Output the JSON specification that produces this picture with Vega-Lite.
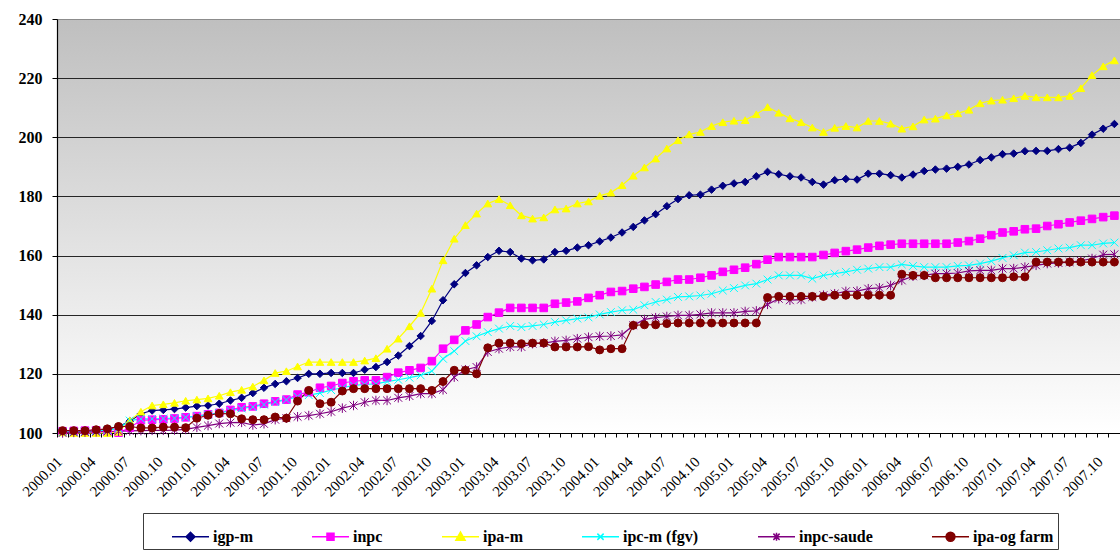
{
  "$schema": "https://vega.github.io/schema/vega-lite/v6.json",
  "width": 1063,
  "height": 414,
  "autosize": {"type": "none"},
  "padding": {"left": 57, "top": 19, "right": 0, "bottom": 124},
  "background": "#FFFFFF",
  "view": {
    "stroke": null,
    "fill": {"gradient": "linear", "x1": 0, "y1": 0, "x2": 0, "y2": 1,
      "stops": [{"offset": 0, "color": "#BFBFBF"}, {"offset": 1, "color": "#FFFFFF"}]}
  },
  "config": {"font": "Liberation Serif, Times New Roman, Times, serif"},
  "data": {"values": [
    {"month":"2000.01","series":"igp-m","value":100.3},{"month":"2000.02","series":"igp-m","value":100.4},{"month":"2000.03","series":"igp-m","value":100.6},{"month":"2000.04","series":"igp-m","value":100.8},{"month":"2000.05","series":"igp-m","value":101.3},{"month":"2000.06","series":"igp-m","value":102.2},{"month":"2000.07","series":"igp-m","value":104.0},{"month":"2000.08","series":"igp-m","value":106.5},{"month":"2000.09","series":"igp-m","value":107.6},{"month":"2000.10","series":"igp-m","value":107.8},{"month":"2000.11","series":"igp-m","value":108.1},{"month":"2000.12","series":"igp-m","value":108.6},
    {"month":"2001.01","series":"igp-m","value":109.1},{"month":"2001.02","series":"igp-m","value":109.3},{"month":"2001.03","series":"igp-m","value":109.9},{"month":"2001.04","series":"igp-m","value":111.0},{"month":"2001.05","series":"igp-m","value":111.9},{"month":"2001.06","series":"igp-m","value":113.5},{"month":"2001.07","series":"igp-m","value":115.3},{"month":"2001.08","series":"igp-m","value":116.6},{"month":"2001.09","series":"igp-m","value":117.5},{"month":"2001.10","series":"igp-m","value":118.6},{"month":"2001.11","series":"igp-m","value":120.0},{"month":"2001.12","series":"igp-m","value":120.0},
    {"month":"2002.01","series":"igp-m","value":120.3},{"month":"2002.02","series":"igp-m","value":120.3},{"month":"2002.03","series":"igp-m","value":120.3},{"month":"2002.04","series":"igp-m","value":121.4},{"month":"2002.05","series":"igp-m","value":122.3},{"month":"2002.06","series":"igp-m","value":124.0},{"month":"2002.07","series":"igp-m","value":126.2},{"month":"2002.08","series":"igp-m","value":129.4},{"month":"2002.09","series":"igp-m","value":132.8},{"month":"2002.10","series":"igp-m","value":137.9},{"month":"2002.11","series":"igp-m","value":144.9},{"month":"2002.12","series":"igp-m","value":150.3},
    {"month":"2003.01","series":"igp-m","value":154.1},{"month":"2003.02","series":"igp-m","value":156.7},{"month":"2003.03","series":"igp-m","value":159.5},{"month":"2003.04","series":"igp-m","value":161.6},{"month":"2003.05","series":"igp-m","value":161.2},{"month":"2003.06","series":"igp-m","value":159.0},{"month":"2003.07","series":"igp-m","value":158.4},{"month":"2003.08","series":"igp-m","value":158.7},{"month":"2003.09","series":"igp-m","value":161.2},{"month":"2003.10","series":"igp-m","value":161.6},{"month":"2003.11","series":"igp-m","value":162.7},{"month":"2003.12","series":"igp-m","value":163.5},
    {"month":"2004.01","series":"igp-m","value":164.8},{"month":"2004.02","series":"igp-m","value":166.1},{"month":"2004.03","series":"igp-m","value":167.8},{"month":"2004.04","series":"igp-m","value":169.7},{"month":"2004.05","series":"igp-m","value":171.9},{"month":"2004.06","series":"igp-m","value":174.0},{"month":"2004.07","series":"igp-m","value":176.7},{"month":"2004.08","series":"igp-m","value":179.1},{"month":"2004.09","series":"igp-m","value":180.4},{"month":"2004.10","series":"igp-m","value":180.6},{"month":"2004.11","series":"igp-m","value":182.3},{"month":"2004.12","series":"igp-m","value":183.6},
    {"month":"2005.01","series":"igp-m","value":184.4},{"month":"2005.02","series":"igp-m","value":184.9},{"month":"2005.03","series":"igp-m","value":186.8},{"month":"2005.04","series":"igp-m","value":188.3},{"month":"2005.05","series":"igp-m","value":187.5},{"month":"2005.06","series":"igp-m","value":186.8},{"month":"2005.07","series":"igp-m","value":186.4},{"month":"2005.08","series":"igp-m","value":184.9},{"month":"2005.09","series":"igp-m","value":184.0},{"month":"2005.10","series":"igp-m","value":185.5},{"month":"2005.11","series":"igp-m","value":185.9},{"month":"2005.12","series":"igp-m","value":185.7},
    {"month":"2006.01","series":"igp-m","value":187.7},{"month":"2006.02","series":"igp-m","value":187.7},{"month":"2006.03","series":"igp-m","value":187.2},{"month":"2006.04","series":"igp-m","value":186.4},{"month":"2006.05","series":"igp-m","value":187.4},{"month":"2006.06","series":"igp-m","value":188.6},{"month":"2006.07","series":"igp-m","value":189.1},{"month":"2006.08","series":"igp-m","value":189.4},{"month":"2006.09","series":"igp-m","value":190.0},{"month":"2006.10","series":"igp-m","value":190.8},{"month":"2006.11","series":"igp-m","value":192.3},{"month":"2006.12","series":"igp-m","value":193.2},
    {"month":"2007.01","series":"igp-m","value":194.3},{"month":"2007.02","series":"igp-m","value":194.5},{"month":"2007.03","series":"igp-m","value":195.3},{"month":"2007.04","series":"igp-m","value":195.4},{"month":"2007.05","series":"igp-m","value":195.4},{"month":"2007.06","series":"igp-m","value":196.0},{"month":"2007.07","series":"igp-m","value":196.5},{"month":"2007.08","series":"igp-m","value":198.1},{"month":"2007.09","series":"igp-m","value":200.9},{"month":"2007.10","series":"igp-m","value":202.9},{"month":"2007.11","series":"igp-m","value":204.5},

    {"month":"2000.01","series":"inpc","value":100.6},{"month":"2000.02","series":"inpc","value":100.7},{"month":"2000.03","series":"inpc","value":100.8},{"month":"2000.04","series":"inpc","value":100.9},{"month":"2000.05","series":"inpc","value":100.6},{"month":"2000.06","series":"inpc","value":100.1},{"month":"2000.07","series":"inpc","value":101.8},{"month":"2000.08","series":"inpc","value":104.3},{"month":"2000.09","series":"inpc","value":104.5},{"month":"2000.10","series":"inpc","value":104.6},{"month":"2000.11","series":"inpc","value":104.9},{"month":"2000.12","series":"inpc","value":105.3},
    {"month":"2001.01","series":"inpc","value":105.7},{"month":"2001.02","series":"inpc","value":106.3},{"month":"2001.03","series":"inpc","value":106.8},{"month":"2001.04","series":"inpc","value":107.8},{"month":"2001.05","series":"inpc","value":108.7},{"month":"2001.06","series":"inpc","value":109.0},{"month":"2001.07","series":"inpc","value":109.9},{"month":"2001.08","series":"inpc","value":110.7},{"month":"2001.09","series":"inpc","value":111.3},{"month":"2001.10","series":"inpc","value":113.0},{"month":"2001.11","series":"inpc","value":113.8},{"month":"2001.12","series":"inpc","value":115.3},
    {"month":"2002.01","series":"inpc","value":115.9},{"month":"2002.02","series":"inpc","value":116.9},{"month":"2002.03","series":"inpc","value":117.5},{"month":"2002.04","series":"inpc","value":117.8},{"month":"2002.05","series":"inpc","value":117.8},{"month":"2002.06","series":"inpc","value":118.9},{"month":"2002.07","series":"inpc","value":120.4},{"month":"2002.08","series":"inpc","value":121.2},{"month":"2002.09","series":"inpc","value":122.0},{"month":"2002.10","series":"inpc","value":124.3},{"month":"2002.11","series":"inpc","value":128.5},{"month":"2002.12","series":"inpc","value":131.5},
    {"month":"2003.01","series":"inpc","value":134.7},{"month":"2003.02","series":"inpc","value":136.7},{"month":"2003.03","series":"inpc","value":139.2},{"month":"2003.04","series":"inpc","value":140.7},{"month":"2003.05","series":"inpc","value":142.3},{"month":"2003.06","series":"inpc","value":142.3},{"month":"2003.07","series":"inpc","value":142.3},{"month":"2003.08","series":"inpc","value":142.3},{"month":"2003.09","series":"inpc","value":143.7},{"month":"2003.10","series":"inpc","value":144.1},{"month":"2003.11","series":"inpc","value":144.5},{"month":"2003.12","series":"inpc","value":145.7},
    {"month":"2004.01","series":"inpc","value":146.6},{"month":"2004.02","series":"inpc","value":147.7},{"month":"2004.03","series":"inpc","value":148.0},{"month":"2004.04","series":"inpc","value":148.8},{"month":"2004.05","series":"inpc","value":149.4},{"month":"2004.06","series":"inpc","value":150.2},{"month":"2004.07","series":"inpc","value":151.1},{"month":"2004.08","series":"inpc","value":151.9},{"month":"2004.09","series":"inpc","value":151.9},{"month":"2004.10","series":"inpc","value":152.5},{"month":"2004.11","series":"inpc","value":153.3},{"month":"2004.12","series":"inpc","value":154.5},
    {"month":"2005.01","series":"inpc","value":155.2},{"month":"2005.02","series":"inpc","value":155.9},{"month":"2005.03","series":"inpc","value":157.1},{"month":"2005.04","series":"inpc","value":158.6},{"month":"2005.05","series":"inpc","value":159.5},{"month":"2005.06","series":"inpc","value":159.5},{"month":"2005.07","series":"inpc","value":159.5},{"month":"2005.08","series":"inpc","value":159.5},{"month":"2005.09","series":"inpc","value":160.2},{"month":"2005.10","series":"inpc","value":160.9},{"month":"2005.11","series":"inpc","value":161.5},{"month":"2005.12","series":"inpc","value":162.0},
    {"month":"2006.01","series":"inpc","value":162.7},{"month":"2006.02","series":"inpc","value":163.3},{"month":"2006.03","series":"inpc","value":163.7},{"month":"2006.04","series":"inpc","value":164.0},{"month":"2006.05","series":"inpc","value":164.0},{"month":"2006.06","series":"inpc","value":164.0},{"month":"2006.07","series":"inpc","value":164.0},{"month":"2006.08","series":"inpc","value":164.0},{"month":"2006.09","series":"inpc","value":164.4},{"month":"2006.10","series":"inpc","value":164.9},{"month":"2006.11","series":"inpc","value":165.7},{"month":"2006.12","series":"inpc","value":166.9},
    {"month":"2007.01","series":"inpc","value":167.8},{"month":"2007.02","series":"inpc","value":168.2},{"month":"2007.03","series":"inpc","value":168.9},{"month":"2007.04","series":"inpc","value":169.1},{"month":"2007.05","series":"inpc","value":170.0},{"month":"2007.06","series":"inpc","value":170.6},{"month":"2007.07","series":"inpc","value":171.2},{"month":"2007.08","series":"inpc","value":171.8},{"month":"2007.09","series":"inpc","value":172.4},{"month":"2007.10","series":"inpc","value":173.0},{"month":"2007.11","series":"inpc","value":173.5},

    {"month":"2000.01","series":"ipa-m","value":100.2},{"month":"2000.02","series":"ipa-m","value":100.0},{"month":"2000.03","series":"ipa-m","value":100.0},{"month":"2000.04","series":"ipa-m","value":100.0},{"month":"2000.05","series":"ipa-m","value":100.0},{"month":"2000.06","series":"ipa-m","value":100.4},{"month":"2000.07","series":"ipa-m","value":104.2},{"month":"2000.08","series":"ipa-m","value":107.2},{"month":"2000.09","series":"ipa-m","value":109.3},{"month":"2000.10","series":"ipa-m","value":109.7},{"month":"2000.11","series":"ipa-m","value":110.2},{"month":"2000.12","series":"ipa-m","value":110.9},
    {"month":"2001.01","series":"ipa-m","value":111.3},{"month":"2001.02","series":"ipa-m","value":111.7},{"month":"2001.03","series":"ipa-m","value":112.6},{"month":"2001.04","series":"ipa-m","value":113.8},{"month":"2001.05","series":"ipa-m","value":114.6},{"month":"2001.06","series":"ipa-m","value":115.7},{"month":"2001.07","series":"ipa-m","value":117.8},{"month":"2001.08","series":"ipa-m","value":120.3},{"month":"2001.09","series":"ipa-m","value":120.9},{"month":"2001.10","series":"ipa-m","value":122.5},{"month":"2001.11","series":"ipa-m","value":124.0},{"month":"2001.12","series":"ipa-m","value":124.0},
    {"month":"2002.01","series":"ipa-m","value":124.0},{"month":"2002.02","series":"ipa-m","value":124.0},{"month":"2002.03","series":"ipa-m","value":124.0},{"month":"2002.04","series":"ipa-m","value":124.5},{"month":"2002.05","series":"ipa-m","value":125.3},{"month":"2002.06","series":"ipa-m","value":128.5},{"month":"2002.07","series":"ipa-m","value":131.9},{"month":"2002.08","series":"ipa-m","value":136.1},{"month":"2002.09","series":"ipa-m","value":140.6},{"month":"2002.10","series":"ipa-m","value":148.8},{"month":"2002.11","series":"ipa-m","value":158.4},{"month":"2002.12","series":"ipa-m","value":165.7},
    {"month":"2003.01","series":"ipa-m","value":170.3},{"month":"2003.02","series":"ipa-m","value":174.2},{"month":"2003.03","series":"ipa-m","value":177.6},{"month":"2003.04","series":"ipa-m","value":179.1},{"month":"2003.05","series":"ipa-m","value":177.0},{"month":"2003.06","series":"ipa-m","value":173.6},{"month":"2003.07","series":"ipa-m","value":172.5},{"month":"2003.08","series":"ipa-m","value":172.9},{"month":"2003.09","series":"ipa-m","value":175.6},{"month":"2003.10","series":"ipa-m","value":175.9},{"month":"2003.11","series":"ipa-m","value":177.6},{"month":"2003.12","series":"ipa-m","value":178.3},
    {"month":"2004.01","series":"ipa-m","value":180.2},{"month":"2004.02","series":"ipa-m","value":181.3},{"month":"2004.03","series":"ipa-m","value":183.8},{"month":"2004.04","series":"ipa-m","value":187.0},{"month":"2004.05","series":"ipa-m","value":189.8},{"month":"2004.06","series":"ipa-m","value":192.8},{"month":"2004.07","series":"ipa-m","value":196.2},{"month":"2004.08","series":"ipa-m","value":199.0},{"month":"2004.09","series":"ipa-m","value":201.0},{"month":"2004.10","series":"ipa-m","value":201.8},{"month":"2004.11","series":"ipa-m","value":203.8},{"month":"2004.12","series":"ipa-m","value":205.1},
    {"month":"2005.01","series":"ipa-m","value":205.6},{"month":"2005.02","series":"ipa-m","value":205.8},{"month":"2005.03","series":"ipa-m","value":207.8},{"month":"2005.04","series":"ipa-m","value":210.2},{"month":"2005.05","series":"ipa-m","value":208.3},{"month":"2005.06","series":"ipa-m","value":206.4},{"month":"2005.07","series":"ipa-m","value":205.1},{"month":"2005.08","series":"ipa-m","value":203.3},{"month":"2005.09","series":"ipa-m","value":201.8},{"month":"2005.10","series":"ipa-m","value":203.2},{"month":"2005.11","series":"ipa-m","value":203.8},{"month":"2005.12","series":"ipa-m","value":203.3},
    {"month":"2006.01","series":"ipa-m","value":205.5},{"month":"2006.02","series":"ipa-m","value":205.5},{"month":"2006.03","series":"ipa-m","value":204.6},{"month":"2006.04","series":"ipa-m","value":202.9},{"month":"2006.05","series":"ipa-m","value":203.7},{"month":"2006.06","series":"ipa-m","value":206.0},{"month":"2006.07","series":"ipa-m","value":206.3},{"month":"2006.08","series":"ipa-m","value":207.4},{"month":"2006.09","series":"ipa-m","value":208.1},{"month":"2006.10","series":"ipa-m","value":209.3},{"month":"2006.11","series":"ipa-m","value":211.5},{"month":"2006.12","series":"ipa-m","value":212.4},
    {"month":"2007.01","series":"ipa-m","value":212.7},{"month":"2007.02","series":"ipa-m","value":213.2},{"month":"2007.03","series":"ipa-m","value":214.0},{"month":"2007.04","series":"ipa-m","value":213.5},{"month":"2007.05","series":"ipa-m","value":213.5},{"month":"2007.06","series":"ipa-m","value":213.5},{"month":"2007.07","series":"ipa-m","value":214.0},{"month":"2007.08","series":"ipa-m","value":216.6},{"month":"2007.09","series":"ipa-m","value":221.0},{"month":"2007.10","series":"ipa-m","value":224.0},{"month":"2007.11","series":"ipa-m","value":226.0},

    {"month":"2000.01","series":"ipc-m (fgv)","value":100.3},{"month":"2000.02","series":"ipc-m (fgv)","value":100.4},{"month":"2000.03","series":"ipc-m (fgv)","value":100.5},{"month":"2000.04","series":"ipc-m (fgv)","value":100.7},{"month":"2000.05","series":"ipc-m (fgv)","value":101.0},{"month":"2000.06","series":"ipc-m (fgv)","value":101.5},{"month":"2000.07","series":"ipc-m (fgv)","value":104.2},{"month":"2000.08","series":"ipc-m (fgv)","value":104.8},{"month":"2000.09","series":"ipc-m (fgv)","value":104.8},{"month":"2000.10","series":"ipc-m (fgv)","value":104.9},{"month":"2000.11","series":"ipc-m (fgv)","value":105.0},{"month":"2000.12","series":"ipc-m (fgv)","value":105.3},
    {"month":"2001.01","series":"ipc-m (fgv)","value":105.7},{"month":"2001.02","series":"ipc-m (fgv)","value":106.2},{"month":"2001.03","series":"ipc-m (fgv)","value":106.8},{"month":"2001.04","series":"ipc-m (fgv)","value":107.5},{"month":"2001.05","series":"ipc-m (fgv)","value":108.3},{"month":"2001.06","series":"ipc-m (fgv)","value":108.8},{"month":"2001.07","series":"ipc-m (fgv)","value":109.6},{"month":"2001.08","series":"ipc-m (fgv)","value":110.5},{"month":"2001.09","series":"ipc-m (fgv)","value":111.2},{"month":"2001.10","series":"ipc-m (fgv)","value":112.3},{"month":"2001.11","series":"ipc-m (fgv)","value":112.8},{"month":"2001.12","series":"ipc-m (fgv)","value":113.5},
    {"month":"2002.01","series":"ipc-m (fgv)","value":114.5},{"month":"2002.02","series":"ipc-m (fgv)","value":115.3},{"month":"2002.03","series":"ipc-m (fgv)","value":116.1},{"month":"2002.04","series":"ipc-m (fgv)","value":116.4},{"month":"2002.05","series":"ipc-m (fgv)","value":116.6},{"month":"2002.06","series":"ipc-m (fgv)","value":117.4},{"month":"2002.07","series":"ipc-m (fgv)","value":118.0},{"month":"2002.08","series":"ipc-m (fgv)","value":118.7},{"month":"2002.09","series":"ipc-m (fgv)","value":119.5},{"month":"2002.10","series":"ipc-m (fgv)","value":120.9},{"month":"2002.11","series":"ipc-m (fgv)","value":125.1},{"month":"2002.12","series":"ipc-m (fgv)","value":127.7},
    {"month":"2003.01","series":"ipc-m (fgv)","value":131.1},{"month":"2003.02","series":"ipc-m (fgv)","value":132.7},{"month":"2003.03","series":"ipc-m (fgv)","value":134.1},{"month":"2003.04","series":"ipc-m (fgv)","value":135.3},{"month":"2003.05","series":"ipc-m (fgv)","value":136.2},{"month":"2003.06","series":"ipc-m (fgv)","value":135.8},{"month":"2003.07","series":"ipc-m (fgv)","value":136.2},{"month":"2003.08","series":"ipc-m (fgv)","value":136.7},{"month":"2003.09","series":"ipc-m (fgv)","value":137.5},{"month":"2003.10","series":"ipc-m (fgv)","value":138.1},{"month":"2003.11","series":"ipc-m (fgv)","value":138.7},{"month":"2003.12","series":"ipc-m (fgv)","value":139.1},
    {"month":"2004.01","series":"ipc-m (fgv)","value":140.1},{"month":"2004.02","series":"ipc-m (fgv)","value":140.9},{"month":"2004.03","series":"ipc-m (fgv)","value":141.5},{"month":"2004.04","series":"ipc-m (fgv)","value":141.7},{"month":"2004.05","series":"ipc-m (fgv)","value":143.2},{"month":"2004.06","series":"ipc-m (fgv)","value":144.3},{"month":"2004.07","series":"ipc-m (fgv)","value":145.1},{"month":"2004.08","series":"ipc-m (fgv)","value":146.0},{"month":"2004.09","series":"ipc-m (fgv)","value":146.2},{"month":"2004.10","series":"ipc-m (fgv)","value":146.5},{"month":"2004.11","series":"ipc-m (fgv)","value":147.1},{"month":"2004.12","series":"ipc-m (fgv)","value":148.2},
    {"month":"2005.01","series":"ipc-m (fgv)","value":149.0},{"month":"2005.02","series":"ipc-m (fgv)","value":149.9},{"month":"2005.03","series":"ipc-m (fgv)","value":150.5},{"month":"2005.04","series":"ipc-m (fgv)","value":151.9},{"month":"2005.05","series":"ipc-m (fgv)","value":153.3},{"month":"2005.06","series":"ipc-m (fgv)","value":153.3},{"month":"2005.07","series":"ipc-m (fgv)","value":153.3},{"month":"2005.08","series":"ipc-m (fgv)","value":152.2},{"month":"2005.09","series":"ipc-m (fgv)","value":153.3},{"month":"2005.10","series":"ipc-m (fgv)","value":153.9},{"month":"2005.11","series":"ipc-m (fgv)","value":154.5},{"month":"2005.12","series":"ipc-m (fgv)","value":155.2},
    {"month":"2006.01","series":"ipc-m (fgv)","value":155.6},{"month":"2006.02","series":"ipc-m (fgv)","value":156.1},{"month":"2006.03","series":"ipc-m (fgv)","value":156.1},{"month":"2006.04","series":"ipc-m (fgv)","value":157.0},{"month":"2006.05","series":"ipc-m (fgv)","value":156.5},{"month":"2006.06","series":"ipc-m (fgv)","value":156.1},{"month":"2006.07","series":"ipc-m (fgv)","value":156.1},{"month":"2006.08","series":"ipc-m (fgv)","value":156.1},{"month":"2006.09","series":"ipc-m (fgv)","value":156.5},{"month":"2006.10","series":"ipc-m (fgv)","value":156.7},{"month":"2006.11","series":"ipc-m (fgv)","value":157.3},{"month":"2006.12","series":"ipc-m (fgv)","value":158.1},
    {"month":"2007.01","series":"ipc-m (fgv)","value":159.2},{"month":"2007.02","series":"ipc-m (fgv)","value":160.1},{"month":"2007.03","series":"ipc-m (fgv)","value":161.0},{"month":"2007.04","series":"ipc-m (fgv)","value":161.2},{"month":"2007.05","series":"ipc-m (fgv)","value":161.8},{"month":"2007.06","series":"ipc-m (fgv)","value":162.4},{"month":"2007.07","series":"ipc-m (fgv)","value":162.7},{"month":"2007.08","series":"ipc-m (fgv)","value":163.5},{"month":"2007.09","series":"ipc-m (fgv)","value":163.5},{"month":"2007.10","series":"ipc-m (fgv)","value":164.1},{"month":"2007.11","series":"ipc-m (fgv)","value":164.4},

    {"month":"2000.01","series":"inpc-saude","value":100.0},{"month":"2000.02","series":"inpc-saude","value":100.2},{"month":"2000.03","series":"inpc-saude","value":100.3},{"month":"2000.04","series":"inpc-saude","value":100.4},{"month":"2000.05","series":"inpc-saude","value":100.5},{"month":"2000.06","series":"inpc-saude","value":100.6},{"month":"2000.07","series":"inpc-saude","value":100.7},{"month":"2000.08","series":"inpc-saude","value":100.8},{"month":"2000.09","series":"inpc-saude","value":100.9},{"month":"2000.10","series":"inpc-saude","value":100.9},{"month":"2000.11","series":"inpc-saude","value":101.0},{"month":"2000.12","series":"inpc-saude","value":101.2},
    {"month":"2001.01","series":"inpc-saude","value":101.9},{"month":"2001.02","series":"inpc-saude","value":102.5},{"month":"2001.03","series":"inpc-saude","value":103.2},{"month":"2001.04","series":"inpc-saude","value":103.5},{"month":"2001.05","series":"inpc-saude","value":103.6},{"month":"2001.06","series":"inpc-saude","value":102.7},{"month":"2001.07","series":"inpc-saude","value":103.1},{"month":"2001.08","series":"inpc-saude","value":104.5},{"month":"2001.09","series":"inpc-saude","value":105.0},{"month":"2001.10","series":"inpc-saude","value":105.5},{"month":"2001.11","series":"inpc-saude","value":105.9},{"month":"2001.12","series":"inpc-saude","value":106.5},
    {"month":"2002.01","series":"inpc-saude","value":107.2},{"month":"2002.02","series":"inpc-saude","value":108.4},{"month":"2002.03","series":"inpc-saude","value":109.3},{"month":"2002.04","series":"inpc-saude","value":110.4},{"month":"2002.05","series":"inpc-saude","value":111.0},{"month":"2002.06","series":"inpc-saude","value":111.0},{"month":"2002.07","series":"inpc-saude","value":111.9},{"month":"2002.08","series":"inpc-saude","value":112.5},{"month":"2002.09","series":"inpc-saude","value":113.3},{"month":"2002.10","series":"inpc-saude","value":113.3},{"month":"2002.11","series":"inpc-saude","value":114.6},{"month":"2002.12","series":"inpc-saude","value":118.9},
    {"month":"2003.01","series":"inpc-saude","value":121.4},{"month":"2003.02","series":"inpc-saude","value":122.3},{"month":"2003.03","series":"inpc-saude","value":127.4},{"month":"2003.04","series":"inpc-saude","value":128.5},{"month":"2003.05","series":"inpc-saude","value":129.1},{"month":"2003.06","series":"inpc-saude","value":129.1},{"month":"2003.07","series":"inpc-saude","value":130.2},{"month":"2003.08","series":"inpc-saude","value":130.4},{"month":"2003.09","series":"inpc-saude","value":131.0},{"month":"2003.10","series":"inpc-saude","value":131.3},{"month":"2003.11","series":"inpc-saude","value":131.9},{"month":"2003.12","series":"inpc-saude","value":132.4},
    {"month":"2004.01","series":"inpc-saude","value":132.7},{"month":"2004.02","series":"inpc-saude","value":132.8},{"month":"2004.03","series":"inpc-saude","value":133.2},{"month":"2004.04","series":"inpc-saude","value":136.4},{"month":"2004.05","series":"inpc-saude","value":138.4},{"month":"2004.06","series":"inpc-saude","value":139.0},{"month":"2004.07","series":"inpc-saude","value":139.4},{"month":"2004.08","series":"inpc-saude","value":139.8},{"month":"2004.09","series":"inpc-saude","value":139.8},{"month":"2004.10","series":"inpc-saude","value":140.1},{"month":"2004.11","series":"inpc-saude","value":140.6},{"month":"2004.12","series":"inpc-saude","value":140.6},
    {"month":"2005.01","series":"inpc-saude","value":140.6},{"month":"2005.02","series":"inpc-saude","value":141.1},{"month":"2005.03","series":"inpc-saude","value":141.3},{"month":"2005.04","series":"inpc-saude","value":143.5},{"month":"2005.05","series":"inpc-saude","value":145.4},{"month":"2005.06","series":"inpc-saude","value":144.9},{"month":"2005.07","series":"inpc-saude","value":145.1},{"month":"2005.08","series":"inpc-saude","value":146.0},{"month":"2005.09","series":"inpc-saude","value":146.6},{"month":"2005.10","series":"inpc-saude","value":147.1},{"month":"2005.11","series":"inpc-saude","value":147.9},{"month":"2005.12","series":"inpc-saude","value":148.0},
    {"month":"2006.01","series":"inpc-saude","value":148.8},{"month":"2006.02","series":"inpc-saude","value":149.1},{"month":"2006.03","series":"inpc-saude","value":149.9},{"month":"2006.04","series":"inpc-saude","value":151.6},{"month":"2006.05","series":"inpc-saude","value":153.0},{"month":"2006.06","series":"inpc-saude","value":153.3},{"month":"2006.07","series":"inpc-saude","value":153.9},{"month":"2006.08","series":"inpc-saude","value":153.9},{"month":"2006.09","series":"inpc-saude","value":154.1},{"month":"2006.10","series":"inpc-saude","value":154.8},{"month":"2006.11","series":"inpc-saude","value":155.0},{"month":"2006.12","series":"inpc-saude","value":155.0},
    {"month":"2007.01","series":"inpc-saude","value":155.6},{"month":"2007.02","series":"inpc-saude","value":155.6},{"month":"2007.03","series":"inpc-saude","value":156.1},{"month":"2007.04","series":"inpc-saude","value":156.7},{"month":"2007.05","series":"inpc-saude","value":157.3},{"month":"2007.06","series":"inpc-saude","value":157.5},{"month":"2007.07","series":"inpc-saude","value":157.8},{"month":"2007.08","series":"inpc-saude","value":158.2},{"month":"2007.09","series":"inpc-saude","value":159.0},{"month":"2007.10","series":"inpc-saude","value":160.3},{"month":"2007.11","series":"inpc-saude","value":160.4},

    {"month":"2000.01","series":"ipa-og farm","value":100.8},{"month":"2000.02","series":"ipa-og farm","value":100.8},{"month":"2000.03","series":"ipa-og farm","value":100.8},{"month":"2000.04","series":"ipa-og farm","value":101.1},{"month":"2000.05","series":"ipa-og farm","value":101.4},{"month":"2000.06","series":"ipa-og farm","value":102.2},{"month":"2000.07","series":"ipa-og farm","value":102.2},{"month":"2000.08","series":"ipa-og farm","value":101.7},{"month":"2000.09","series":"ipa-og farm","value":101.7},{"month":"2000.10","series":"ipa-og farm","value":102.0},{"month":"2000.11","series":"ipa-og farm","value":102.0},{"month":"2000.12","series":"ipa-og farm","value":101.8},
    {"month":"2001.01","series":"ipa-og farm","value":105.0},{"month":"2001.02","series":"ipa-og farm","value":106.0},{"month":"2001.03","series":"ipa-og farm","value":106.6},{"month":"2001.04","series":"ipa-og farm","value":106.5},{"month":"2001.05","series":"ipa-og farm","value":104.8},{"month":"2001.06","series":"ipa-og farm","value":104.5},{"month":"2001.07","series":"ipa-og farm","value":104.5},{"month":"2001.08","series":"ipa-og farm","value":105.4},{"month":"2001.09","series":"ipa-og farm","value":105.0},{"month":"2001.10","series":"ipa-og farm","value":110.8},{"month":"2001.11","series":"ipa-og farm","value":114.4},{"month":"2001.12","series":"ipa-og farm","value":109.9},
    {"month":"2002.01","series":"ipa-og farm","value":110.4},{"month":"2002.02","series":"ipa-og farm","value":114.2},{"month":"2002.03","series":"ipa-og farm","value":115.0},{"month":"2002.04","series":"ipa-og farm","value":115.0},{"month":"2002.05","series":"ipa-og farm","value":115.0},{"month":"2002.06","series":"ipa-og farm","value":115.0},{"month":"2002.07","series":"ipa-og farm","value":115.0},{"month":"2002.08","series":"ipa-og farm","value":115.0},{"month":"2002.09","series":"ipa-og farm","value":115.0},{"month":"2002.10","series":"ipa-og farm","value":114.4},{"month":"2002.11","series":"ipa-og farm","value":117.4},{"month":"2002.12","series":"ipa-og farm","value":121.2},
    {"month":"2003.01","series":"ipa-og farm","value":121.2},{"month":"2003.02","series":"ipa-og farm","value":120.0},{"month":"2003.03","series":"ipa-og farm","value":128.8},{"month":"2003.04","series":"ipa-og farm","value":130.4},{"month":"2003.05","series":"ipa-og farm","value":130.4},{"month":"2003.06","series":"ipa-og farm","value":130.2},{"month":"2003.07","series":"ipa-og farm","value":130.4},{"month":"2003.08","series":"ipa-og farm","value":130.4},{"month":"2003.09","series":"ipa-og farm","value":129.1},{"month":"2003.10","series":"ipa-og farm","value":129.1},{"month":"2003.11","series":"ipa-og farm","value":129.1},{"month":"2003.12","series":"ipa-og farm","value":129.2},
    {"month":"2004.01","series":"ipa-og farm","value":128.1},{"month":"2004.02","series":"ipa-og farm","value":128.5},{"month":"2004.03","series":"ipa-og farm","value":128.5},{"month":"2004.04","series":"ipa-og farm","value":136.4},{"month":"2004.05","series":"ipa-og farm","value":136.6},{"month":"2004.06","series":"ipa-og farm","value":136.6},{"month":"2004.07","series":"ipa-og farm","value":137.0},{"month":"2004.08","series":"ipa-og farm","value":137.2},{"month":"2004.09","series":"ipa-og farm","value":137.2},{"month":"2004.10","series":"ipa-og farm","value":137.2},{"month":"2004.11","series":"ipa-og farm","value":137.2},{"month":"2004.12","series":"ipa-og farm","value":137.2},
    {"month":"2005.01","series":"ipa-og farm","value":137.2},{"month":"2005.02","series":"ipa-og farm","value":137.2},{"month":"2005.03","series":"ipa-og farm","value":137.2},{"month":"2005.04","series":"ipa-og farm","value":145.8},{"month":"2005.05","series":"ipa-og farm","value":146.2},{"month":"2005.06","series":"ipa-og farm","value":146.2},{"month":"2005.07","series":"ipa-og farm","value":146.2},{"month":"2005.08","series":"ipa-og farm","value":146.2},{"month":"2005.09","series":"ipa-og farm","value":146.2},{"month":"2005.10","series":"ipa-og farm","value":146.6},{"month":"2005.11","series":"ipa-og farm","value":146.6},{"month":"2005.12","series":"ipa-og farm","value":146.6},
    {"month":"2006.01","series":"ipa-og farm","value":146.6},{"month":"2006.02","series":"ipa-og farm","value":146.6},{"month":"2006.03","series":"ipa-og farm","value":146.6},{"month":"2006.04","series":"ipa-og farm","value":153.7},{"month":"2006.05","series":"ipa-og farm","value":153.3},{"month":"2006.06","series":"ipa-og farm","value":153.3},{"month":"2006.07","series":"ipa-og farm","value":152.5},{"month":"2006.08","series":"ipa-og farm","value":152.5},{"month":"2006.09","series":"ipa-og farm","value":152.5},{"month":"2006.10","series":"ipa-og farm","value":152.5},{"month":"2006.11","series":"ipa-og farm","value":152.5},{"month":"2006.12","series":"ipa-og farm","value":152.5},
    {"month":"2007.01","series":"ipa-og farm","value":152.5},{"month":"2007.02","series":"ipa-og farm","value":152.8},{"month":"2007.03","series":"ipa-og farm","value":152.8},{"month":"2007.04","series":"ipa-og farm","value":157.8},{"month":"2007.05","series":"ipa-og farm","value":157.8},{"month":"2007.06","series":"ipa-og farm","value":157.8},{"month":"2007.07","series":"ipa-og farm","value":157.8},{"month":"2007.08","series":"ipa-og farm","value":157.8},{"month":"2007.09","series":"ipa-og farm","value":157.8},{"month":"2007.10","series":"ipa-og farm","value":157.8},{"month":"2007.11","series":"ipa-og farm","value":157.8}
  ]},
  "encoding": {
    "x": {
      "field": "month", "type": "ordinal",
      "scale": {"type": "band", "paddingInner": 0, "paddingOuter": 0},
      "axis": {
        "title": null, "grid": false, "bandPosition": 0,
        "domainColor": "#000000", "domainWidth": 1,
        "tickColor": "#000000", "tickSize": 4, "tickWidth": 1,
        "labelExpr": "indexof(['01','04','07','10'], substring(datum.value, 5)) >= 0 ? datum.value : ''",
        "labelOverlap": false, "labelAngle": -45, "labelAlign": "right", "labelBaseline": "top",
        "labelOffset": -8, "labelPadding": 17,
        "labelFont": "Liberation Serif, Times New Roman, Times, serif", "labelFontSize": 15, "labelColor": "#000000"
      }
    },
    "y": {
      "field": "value", "type": "quantitative",
      "scale": {"domain": [100, 240], "nice": false, "zero": false},
      "axis": {
        "title": null, "values": [100, 120, 140, 160, 180, 200, 220, 240],
        "grid": true, "gridWidth": 1.2,
        "gridColor": {"condition": {"test": "datum.value === 240", "value": "#8C8C8C"}, "value": "#262626"},
        "domainColor": "#000000", "domainWidth": 1.2,
        "tickColor": "#000000", "tickSize": 5, "tickWidth": 1,
        "labelPadding": 10, "labelFont": "Liberation Serif, Times New Roman, Times, serif", "labelFontSize": 16,
        "labelFontWeight": "bold", "labelColor": "#000000"
      }
    }
  },
  "layer": [
    {
      "mark": {"type": "line", "strokeWidth": 1.2},
      "encoding": {
        "color": {
          "field": "series", "type": "nominal",
          "scale": {
            "domain": ["igp-m", "inpc", "ipa-m", "ipc-m (fgv)", "inpc-saude", "ipa-og farm"],
            "range": ["#000080", "#FF00FF", "#FFFF00", "#00FFFF", "#800080", "#800000"]
          },
          "legend": {
            "orient": "none", "legendX": 86, "legendY": 494, "direction": "horizontal",
            "title": " ", "titleOrient": "left", "titlePadding": 24, "titleFontSize": 16,
            "padding": 4, "fillColor": "#FFFFFF", "strokeColor": "#3C3C3C",
            "columnPadding": 56, "labelOffset": 3,
            "labelFont": "Liberation Serif, Times New Roman, Times, serif", "labelFontSize": 16, "labelFontWeight": "bold", "labelColor": "#000000",
            "labelExpr": "datum.label === 'ipa-og farm' ? 'ipa-og farm       ' : datum.label",
            "symbolSize": 1369, "symbolStrokeWidth": 1.5,
            "symbolType": {"expr": "datum.value === 'igp-m' ? 'M-1,0H1M-0.24,0L0,-0.24L0.24,0L0,0.24Z' : datum.value === 'inpc' ? 'M-1,0H1M-0.19,-0.19H0.19V0.19H-0.19Z' : datum.value === 'ipa-m' ? 'M-1,0H1M0,-0.25L0.25,0.19L-0.25,0.19Z' : datum.value === 'ipc-m (fgv)' ? 'M-1,0H1M-0.17,-0.17L0.17,0.17M-0.17,0.17L0.17,-0.17' : datum.value === 'inpc-saude' ? 'M-1,0H1M-0.17,-0.17L0.17,0.17M-0.17,0.17L0.17,-0.17M0,-0.22V0.22' : 'M-1,0H1M0.24,0A0.24,0.24,0,1,1,-0.24,0A0.24,0.24,0,1,1,0.24,0Z'"},
            "symbolFillColor": {"expr": "datum.value === 'ipc-m (fgv)' || datum.value === 'inpc-saude' ? 'transparent' : scale('color', datum.value)"}
          }
        }
      }
    },
    {
      "mark": {"type": "point", "strokeWidth": 1, "opacity": 1},
      "encoding": {
        "shape": {
          "field": "series", "type": "nominal", "legend": null,
          "scale": {
            "domain": ["ipa-og farm", "inpc-saude", "ipc-m (fgv)", "ipa-m", "inpc", "igp-m"],
            "range": ["circle", "M-1,-1L1,1M-1,1L1,-1M0,-1.2L0,1.2", "M-1,-1L1,1M-1,1L1,-1", "triangle-up", "square", "diamond"]
          }
        },
        "stroke": {
          "field": "series", "type": "nominal", "legend": null,
          "scale": {
            "domain": ["ipa-og farm", "inpc-saude", "ipc-m (fgv)", "ipa-m", "inpc", "igp-m"],
            "range": ["#800000", "#800080", "#00FFFF", "#FFFF00", "#FF00FF", "#000080"]
          }
        },
        "fill": {
          "field": "series", "type": "nominal", "legend": null,
          "scale": {
            "domain": ["ipa-og farm", "inpc-saude", "ipc-m (fgv)", "ipa-m", "inpc", "igp-m"],
            "range": ["#800000", "transparent", "transparent", "#FFFF00", "#FF00FF", "#000080"]
          }
        },
        "size": {
          "field": "series", "type": "nominal", "legend": null,
          "scale": {
            "domain": ["ipa-og farm", "inpc-saude", "ipc-m (fgv)", "ipa-m", "inpc", "igp-m"],
            "range": [64, 56, 42, 70, 45, 70]
          }
        }
      }
    }
  ]
}
